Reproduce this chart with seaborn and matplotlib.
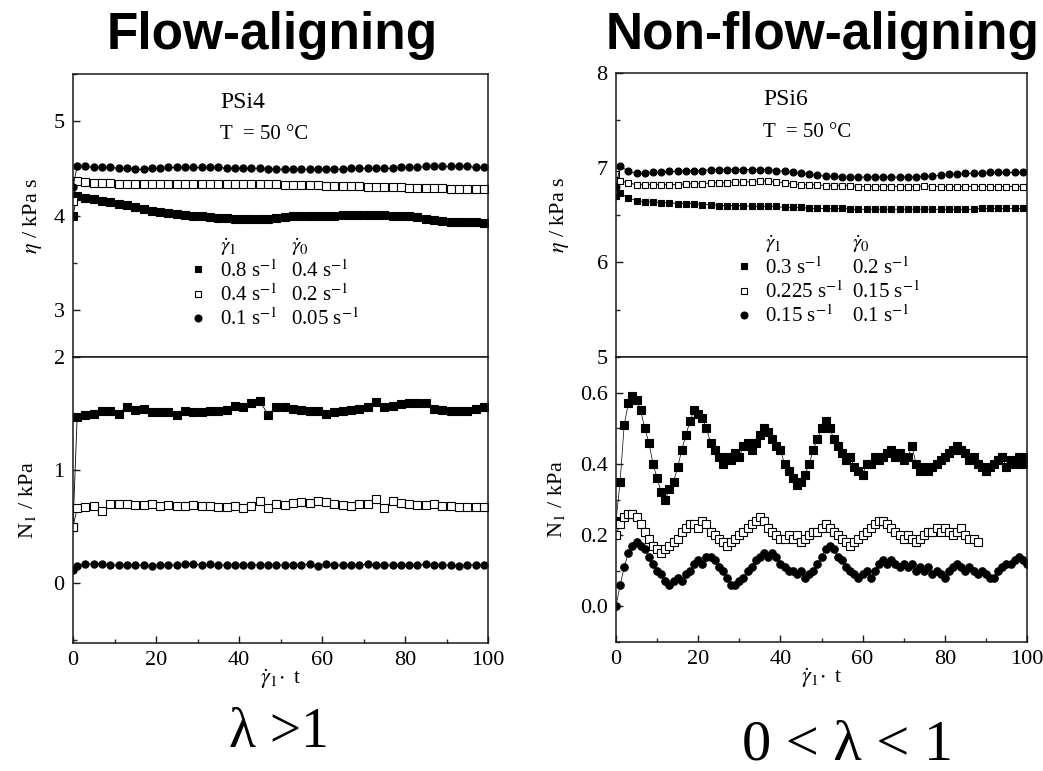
import seaborn as sns
import matplotlib.pyplot as plt
import numpy as np
from matplotlib.lines import Line2D
from matplotlib.ticker import MultipleLocator

# ---- data ----
# time grid of the flat runs (left panels and right eta panel)
t_grid = np.r_[0, np.arange(1, 100, 2)]
t_long = np.arange(0, 101)

# PSi4, viscosity
psi4_eta_08 = [4.00, 4.21, 4.19, 4.17, 4.15, 4.14, 4.12, 4.11, 4.09, 4.07,
               4.05, 4.04, 4.03, 4.02, 4.01, 4.00, 3.99, 3.98, 3.97, 3.97,
               3.96, 3.96, 3.96, 3.96, 3.96, 3.97, 3.98, 3.99, 3.99, 3.99,
               4.00, 4.00, 4.00, 4.01, 4.01, 4.01, 4.01, 4.01, 4.01, 4.00,
               4.00, 3.99, 3.98, 3.96, 3.95, 3.94, 3.93, 3.93, 3.93, 3.93, 3.92]
psi4_eta_04 = [4.15, 4.37, 4.35, 4.34, 4.34, 4.34, 4.33, 4.33, 4.33, 4.33,
               4.33, 4.33, 4.33, 4.33, 4.33, 4.33, 4.33, 4.33, 4.33, 4.33,
               4.33, 4.33, 4.33, 4.33, 4.33, 4.33, 4.32, 4.32, 4.32, 4.32,
               4.32, 4.31, 4.31, 4.31, 4.31, 4.31, 4.30, 4.30, 4.30, 4.30,
               4.30, 4.29, 4.29, 4.29, 4.29, 4.29, 4.28, 4.28, 4.28, 4.28, 4.28]
psi4_eta_01 = [4.30, 4.52, 4.52, 4.51, 4.51, 4.51, 4.50, 4.50, 4.49, 4.49,
               4.50, 4.50, 4.51, 4.51, 4.51, 4.51, 4.51, 4.51, 4.51, 4.50,
               4.50, 4.50, 4.50, 4.50, 4.49, 4.49, 4.49, 4.49, 4.49, 4.49,
               4.49, 4.49, 4.49, 4.49, 4.50, 4.50, 4.50, 4.50, 4.50, 4.50,
               4.51, 4.51, 4.51, 4.52, 4.52, 4.52, 4.52, 4.52, 4.52, 4.51, 4.51]

# PSi4, first normal stress difference
psi4_n1_08 = [0.50, 1.47, 1.49, 1.50, 1.52, 1.52, 1.50, 1.56, 1.53, 1.54,
              1.51, 1.51, 1.51, 1.49, 1.52, 1.51, 1.51, 1.52, 1.52, 1.53,
              1.57, 1.56, 1.59, 1.61, 1.49, 1.56, 1.56, 1.54, 1.53, 1.52,
              1.52, 1.50, 1.51, 1.52, 1.53, 1.54, 1.56, 1.60, 1.56, 1.57,
              1.58, 1.59, 1.59, 1.59, 1.54, 1.53, 1.52, 1.52, 1.52, 1.54, 1.56]
psi4_n1_04 = [0.50, 0.66, 0.67, 0.68, 0.64, 0.70, 0.70, 0.70, 0.69, 0.69,
              0.70, 0.68, 0.69, 0.68, 0.68, 0.69, 0.68, 0.68, 0.67, 0.67,
              0.68, 0.66, 0.68, 0.73, 0.66, 0.70, 0.69, 0.71, 0.72, 0.71,
              0.73, 0.72, 0.70, 0.69, 0.68, 0.70, 0.70, 0.74, 0.66, 0.73,
              0.71, 0.70, 0.69, 0.69, 0.70, 0.68, 0.68, 0.67, 0.67, 0.67, 0.67]
psi4_n1_01 = [0.12, 0.15, 0.17, 0.17, 0.17, 0.16, 0.16, 0.16, 0.16, 0.16,
              0.15, 0.16, 0.16, 0.16, 0.17, 0.17, 0.16, 0.17, 0.16, 0.16,
              0.16, 0.16, 0.16, 0.16, 0.16, 0.16, 0.16, 0.16, 0.16, 0.17,
              0.15, 0.17, 0.16, 0.16, 0.16, 0.16, 0.17, 0.16, 0.16, 0.16,
              0.16, 0.16, 0.16, 0.17, 0.16, 0.16, 0.16, 0.15, 0.16, 0.16, 0.16]

# PSi6, viscosity
psi6_eta_03 = [6.70, 6.73, 6.68, 6.65, 6.64, 6.64, 6.63, 6.63, 6.62, 6.62,
               6.62, 6.61, 6.61, 6.60, 6.60, 6.60, 6.60, 6.59, 6.59, 6.59,
               6.59, 6.58, 6.58, 6.58, 6.57, 6.57, 6.57, 6.57, 6.57, 6.56,
               6.56, 6.56, 6.56, 6.56, 6.56, 6.56, 6.56, 6.56, 6.56, 6.56,
               6.56, 6.56, 6.56, 6.56, 6.56, 6.57, 6.57, 6.57, 6.57, 6.57, 6.57]
psi6_eta_0225 = [6.93, 6.86, 6.84, 6.82, 6.82, 6.82, 6.82, 6.82, 6.82, 6.83,
                 6.83, 6.83, 6.84, 6.84, 6.84, 6.85, 6.85, 6.85, 6.86, 6.86,
                 6.85, 6.84, 6.83, 6.82, 6.82, 6.82, 6.81, 6.81, 6.81, 6.81,
                 6.80, 6.80, 6.80, 6.80, 6.80, 6.80, 6.80, 6.80, 6.81, 6.80,
                 6.80, 6.80, 6.80, 6.80, 6.80, 6.80, 6.80, 6.80, 6.80, 6.80, 6.80]
psi6_eta_015 = [6.80, 7.02, 6.96, 6.94, 6.94, 6.95, 6.95, 6.96, 6.96, 6.97,
                6.97, 6.97, 6.98, 6.98, 6.98, 6.98, 6.98, 6.98, 6.98, 6.98,
                6.97, 6.96, 6.95, 6.94, 6.93, 6.92, 6.91, 6.91, 6.90, 6.90,
                6.90, 6.90, 6.90, 6.90, 6.90, 6.90, 6.90, 6.90, 6.91, 6.91,
                6.92, 6.93, 6.93, 6.94, 6.94, 6.94, 6.95, 6.95, 6.95, 6.95, 6.95]

# PSi6, first normal stress difference (oscillating)
psi6_n1_03 = [0.24, 0.35, 0.51, 0.57, 0.59, 0.58, 0.55, 0.50, 0.46, 0.40,
              0.36, 0.32, 0.30, 0.33, 0.35, 0.39, 0.44, 0.48, 0.52, 0.55,
              0.54, 0.53, 0.50, 0.46, 0.44, 0.42, 0.40, 0.42, 0.41, 0.43,
              0.42, 0.45, 0.46, 0.44, 0.46, 0.48, 0.50, 0.49, 0.47, 0.45,
              0.44, 0.40, 0.38, 0.36, 0.34, 0.35, 0.37, 0.40, 0.44, 0.47,
              0.50, 0.52, 0.50, 0.47, 0.45, 0.43, 0.41, 0.42, 0.39, 0.38,
              0.37, 0.40, 0.40, 0.42, 0.41, 0.42, 0.43, 0.44, 0.42, 0.43,
              0.41, 0.42, 0.45, 0.40, 0.38, 0.39, 0.38, 0.39, 0.40, 0.41,
              0.42, 0.43, 0.44, 0.45, 0.44, 0.43, 0.41, 0.42, 0.40, 0.39,
              0.38, 0.39, 0.40, 0.41, 0.42, 0.39, 0.41, 0.40, 0.42, 0.40, 0.42]
psi6_n1_0225 = [0.20, 0.23, 0.25, 0.26, 0.26, 0.25, 0.23, 0.21, 0.19, 0.17,
                0.16, 0.15, 0.16, 0.17, 0.18, 0.19, 0.21, 0.22, 0.23, 0.23,
                0.22, 0.24, 0.23, 0.21, 0.20, 0.19, 0.18, 0.17, 0.18, 0.19,
                0.20, 0.21, 0.22, 0.23, 0.24, 0.25, 0.24, 0.22, 0.21, 0.20,
                0.19, 0.19, 0.20, 0.19, 0.20, 0.18, 0.19, 0.20, 0.21, 0.21,
                0.22, 0.23, 0.22, 0.21, 0.20, 0.19, 0.18, 0.17, 0.18, 0.19,
                0.20, 0.21, 0.22, 0.23, 0.24, 0.24, 0.23, 0.22, 0.21, 0.20,
                0.19, 0.20, 0.19, 0.18, 0.19, 0.20, 0.21, 0.21, 0.22, 0.21,
                0.22, 0.21, 0.20, 0.21, 0.22, 0.20, 0.19, 0.19, 0.18]
psi6_n1_015 = [0.00, 0.06, 0.11, 0.15, 0.17, 0.18, 0.17, 0.16, 0.14, 0.12,
               0.10, 0.09, 0.07, 0.06, 0.07, 0.08, 0.07, 0.09, 0.10, 0.12,
               0.13, 0.12, 0.14, 0.14, 0.13, 0.11, 0.10, 0.08, 0.06, 0.06,
               0.07, 0.08, 0.10, 0.11, 0.13, 0.14, 0.15, 0.14, 0.15, 0.14,
               0.12, 0.11, 0.10, 0.10, 0.09, 0.10, 0.08, 0.09, 0.10, 0.12,
               0.14, 0.16, 0.17, 0.16, 0.14, 0.13, 0.11, 0.10, 0.09, 0.08,
               0.09, 0.10, 0.08, 0.10, 0.12, 0.13, 0.12, 0.13, 0.12, 0.11,
               0.12, 0.11, 0.12, 0.10, 0.11, 0.10, 0.11, 0.09, 0.10, 0.09,
               0.08, 0.10, 0.11, 0.12, 0.11, 0.10, 0.11, 0.10, 0.09, 0.10,
               0.09, 0.08, 0.08, 0.10, 0.11, 0.12, 0.12, 0.13, 0.14, 0.13, 0.12]

psi4_rates1 = ["0.8 s$^{-1}$", "0.4 s$^{-1}$", "0.1 s$^{-1}$"]
psi4_rates0 = ["0.4 s$^{-1}$", "0.2 s$^{-1}$", "0.05 s$^{-1}$"]
psi6_rates1 = ["0.3 s$^{-1}$", "0.225 s$^{-1}$", "0.15 s$^{-1}$"]
psi6_rates0 = ["0.2 s$^{-1}$", "0.15 s$^{-1}$", "0.1 s$^{-1}$"]

# ---- style ----
sns.set_style("ticks")
plt.rcParams['font.family'] = ['Liberation Serif', 'DejaVu Serif']
plt.rcParams['mathtext.fontset'] = 'stix'
plt.rcParams['axes.edgecolor'] = '#1a1a1a'
plt.rcParams['axes.linewidth'] = 1.1
plt.rcParams['text.color'] = 'black'
plt.rcParams['axes.labelcolor'] = 'black'

styles = [dict(marker='s', mfc='black', mec='black'),
          dict(marker='s', mfc='white', mec='black'),
          dict(marker='o', mfc='black', mec='black')]

fig = plt.figure(figsize=(10.43, 7.71), dpi=100)
W, H = 1043, 771


def make_ax(x0, x1, y0, y1):
    return fig.add_axes([x0 / W, 1 - y1 / H, (x1 - x0) / W, (y1 - y0) / H])


ax_lu = make_ax(73, 488, 74, 357)
ax_ll = make_ax(73, 488, 357, 643)
ax_ru = make_ax(616, 1027, 73, 357)
ax_rl = make_ax(616, 1027, 357, 642)


def draw(ax, t, series, ms, lw):
    for y, st in zip(series, styles):
        sns.lineplot(x=t[:len(y)], y=y, ax=ax, color='black', lw=lw,
                     markersize=ms, markeredgewidth=0.8, estimator=None,
                     sort=False, **st)


draw(ax_lu, t_grid, [psi4_eta_08, psi4_eta_04, psi4_eta_01], 5.2, 0.6)
draw(ax_ll, t_grid, [psi4_n1_08, psi4_n1_04, psi4_n1_01], 5.2, 0.6)
draw(ax_ru, t_grid, [psi6_eta_03, psi6_eta_0225, psi6_eta_015], 5.0, 0.6)
draw(ax_rl, t_long, [psi6_n1_03, psi6_n1_0225, psi6_n1_015], 5.4, 0.5)

ax_lu.set_ylim(2.5, 5.5)
ax_ll.set_ylim(-0.53, 2.0)
ax_ru.set_ylim(5, 8)
ax_rl.set_ylim(-0.1, 0.7)

for ax in [ax_lu, ax_ll, ax_ru, ax_rl]:
    ax.set_xlim(0, 100)
    ax.tick_params(direction='in', length=5, width=1, labelsize=16,
                   right=False, top=False, pad=6, colors='#1a1a1a',
                   labelcolor='black')
    ax.tick_params(which='minor', direction='in', length=3, width=1,
                   right=False, top=False)
    ax.xaxis.set_major_locator(MultipleLocator(20))
    ax.xaxis.set_minor_locator(MultipleLocator(10))
    for s in ax.spines.values():
        s.set_visible(True)
    ax.set_xlabel('')
    ax.set_ylabel('')

for ax in [ax_lu, ax_ru]:
    ax.tick_params(axis='x', which='both', bottom=False, labelbottom=False)

ax_lu.yaxis.set_major_locator(MultipleLocator(1))
ax_lu.yaxis.set_minor_locator(MultipleLocator(0.5))
ax_ll.yaxis.set_major_locator(MultipleLocator(1))
ax_ll.yaxis.set_minor_locator(MultipleLocator(0.5))
ax_ru.yaxis.set_major_locator(MultipleLocator(1))
ax_ru.yaxis.set_minor_locator(MultipleLocator(0.5))
ax_rl.yaxis.set_major_locator(MultipleLocator(0.2))
ax_rl.yaxis.set_minor_locator(MultipleLocator(0.1))
ax_rl.yaxis.set_major_formatter(plt.FormatStrFormatter('%.1f'))

# axis labels
for ax, lx in [(ax_lu, -0.07), (ax_ru, -0.11)]:
    ax.set_ylabel(r'$\eta$ / kPa s', fontsize=16)
    ax.yaxis.set_label_coords(lx, 0.5)
for ax, lx in [(ax_ll, -0.085), (ax_rl, -0.12)]:
    ax.set_ylabel(r'N$_1$ / kPa', fontsize=16)
    ax.yaxis.set_label_coords(lx, 0.5)
    ax.set_xlabel(r'$\dot{\gamma}_1\!\cdot$ t', fontsize=16)
    ax.xaxis.set_label_coords(0.5, -0.084)

# in-panel annotations and legends
for ax, name, rates1, rates0, tx, ty, lx, ly, cs in [
        (ax_lu, 'PSi4', psi4_rates1, psi4_rates0, 0.354, 0.898, 0.277, 0.343, -0.9),
        (ax_ru, 'PSi6', psi6_rates1, psi6_rates0, 0.358, 0.905, 0.285, 0.352, -1.15)]:
    ax.text(tx, ty, name, transform=ax.transAxes, fontsize=17, va='center')
    ax.text(tx, ty - 0.113, 'T  = 50 °C', transform=ax.transAxes,
            fontsize=15, va='center')
    handles = [Line2D([], [], ls='none', markersize=5, markeredgewidth=0.8, **st)
               for st in styles]
    blanks = [Line2D([], [], ls='none') for _ in styles]
    leg = ax.legend(handles + blanks, rates1 + rates0, ncol=2, frameon=False,
                    loc='upper left', bbox_to_anchor=(lx, ly), fontsize=15,
                    borderpad=0, borderaxespad=0, handlelength=1.0,
                    handletextpad=0.55, labelspacing=0.12, columnspacing=cs)
    # column headers sit over the two label columns
    fig.canvas.draw()
    inv = ax.transAxes.inverted()
    for txt, head in zip([leg.get_texts()[0], leg.get_texts()[3]],
                         [r'$\dot{\gamma}_1$', r'$\dot{\gamma}_0$']):
        x0 = inv.transform(txt.get_window_extent().p0)[0]
        ax.text(x0, ly + 0.047, head, transform=ax.transAxes,
                fontsize=15, va='center')

# headings and lambda regimes
fig.text(272 / W, 1 - 36 / H, 'Flow-aligning', ha='center', va='center',
         fontsize=37, fontweight='bold', family='Liberation Sans')
fig.text(606 / W, 1 - 36 / H, 'Non-flow-aligning', ha='left', va='center',
         fontsize=37, fontweight='bold', family='Liberation Sans')
fig.text(279 / W, 1 - 733 / H, 'λ >1', ha='center', va='center', fontsize=40)
fig.text(847 / W, 1 - 745 / H, '0 < λ < 1', ha='center', va='center',
         fontsize=42)

fig.savefig('out.png', dpi=100, facecolor='white')
